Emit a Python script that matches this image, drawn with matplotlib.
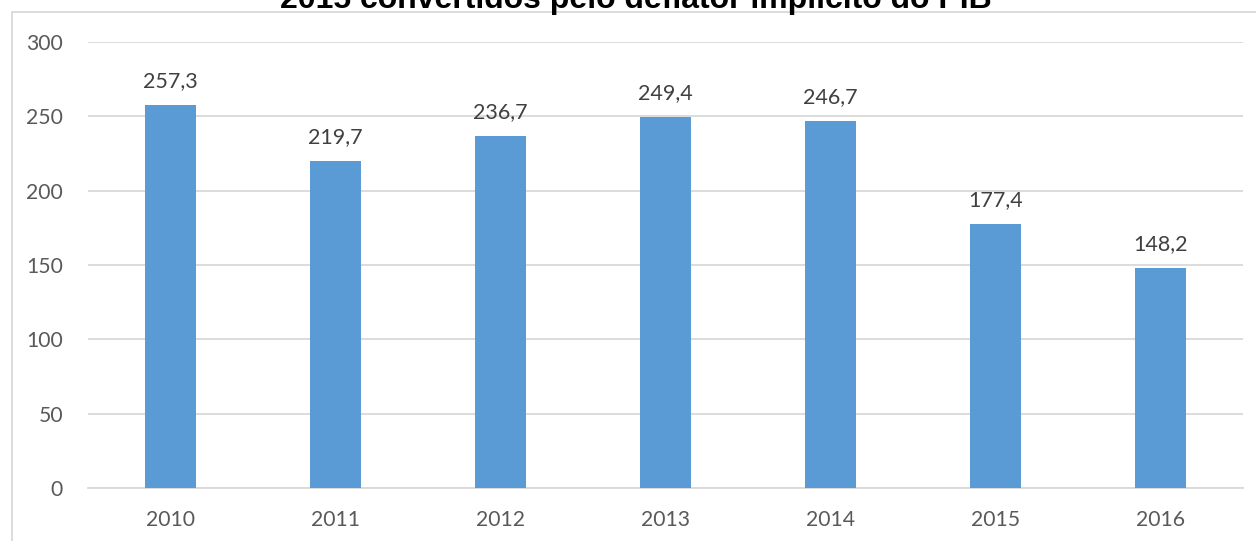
import matplotlib
matplotlib.use("Agg")
import matplotlib.pyplot as plt
from matplotlib.patches import Rectangle

years = ["2010", "2011", "2012", "2013", "2014", "2015", "2016"]
values = [257.3, 219.7, 236.7, 249.4, 246.7, 177.4, 148.2]
labels = ["257,3", "219,7", "236,7", "249,4", "246,7", "177,4", "148,2"]
yticks = [0, 50, 100, 150, 200, 250, 300]
title = "2015 convertidos pelo deflator implícito do PIB"

W, H = 1256, 541
fig = plt.figure(figsize=(W / 100, H / 100), dpi=100)
ax = fig.add_axes([88 / W, 1 - 488 / H, (1243 - 88) / W, (488 - 42) / H])

x = list(range(len(years)))
ax.bar(x, values, width=0.315, color="#5b9bd5", zorder=3)
for xi, v, lab in zip(x, values, labels):
    ax.annotate(lab, (xi, v), xytext=(0, 10), textcoords="offset points",
                ha="center", va="bottom", fontsize=15.5, color="#404040",
                family="Lato")

ax.set_xlim(-0.5, len(years) - 0.5)
ax.set_ylim(0, 300)
ax.set_yticks(yticks)
ax.set_yticklabels([str(t) for t in yticks])
ax.set_xticks(x)
ax.set_xticklabels(years)
ax.grid(axis="y", color="#d9d9d9", linewidth=1.3, zorder=0)
for s in ["top", "right", "left"]:
    ax.spines[s].set_visible(False)
ax.spines["bottom"].set_color("#d9d9d9")
ax.spines["bottom"].set_linewidth(1.3)
ax.tick_params(axis="both", length=0, labelsize=15.2, labelcolor="#595959")
ax.tick_params(axis="y", pad=18)
ax.tick_params(axis="x", pad=16)
for t in ax.get_xticklabels() + ax.get_yticklabels():
    t.set_family("Lato")

fig.text(636 / W, 1 - 8 / H, title, ha="center", va="baseline",
         fontsize=23, fontweight="bold", family="Liberation Sans", color="black")

fig.patches.append(Rectangle((12 / W, -0.1), 1.2, 1 - 12 / H + 0.1,
                             transform=fig.transFigure, fill=False,
                             edgecolor="#d9d9d9", linewidth=1.3))

fig.savefig("out.png", dpi=100)
